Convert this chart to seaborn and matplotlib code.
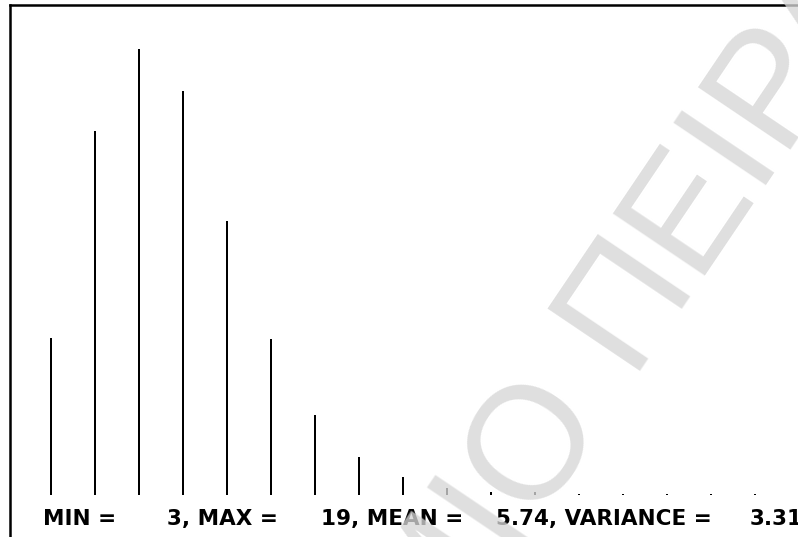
import matplotlib
matplotlib.use("Agg")
import matplotlib.pyplot as plt
import seaborn as sns
import pandas as pd

# Observed outcomes and their frequencies
values = [3, 4, 5, 6, 7, 8, 9, 10, 11, 12, 13, 14, 15, 16, 17, 18, 19]
counts = [157, 364, 446, 404, 274, 156, 80, 38, 18, 7, 3, 3, 1, 1, 1, 1, 1]

# Summary statistics printed under the spikes
stat_min = min(values)
stat_max = max(values)
stat_mean = 5.74
stat_var = 3.31

watermark_left = "ΠΑΝΕΠΙΣΤΗΜΙΟ"
watermark_right = "ΠΕΙΡΑΙΩΣ"

W, H = 798, 537
sns.set_style("white")
plt.rcParams["font.family"] = ["DejaVu Sans"]

fig = plt.figure(figsize=(W / 100, H / 100), dpi=100)
fig.patch.set_facecolor("white")

# Axes frame: left edge at x=10px, top edge at y=5px, runs past the right edge
ax = fig.add_axes([10 / W, 0, (W) / W, (H - 5) / H])
df = pd.DataFrame({"value": values, "count": counts})
sns.barplot(data=df, x="value", y="count", native_scale=True,
            width=2 / 44, color="black", saturation=1, edgecolor="none",
            linewidth=0, ax=ax)

px_per_unit = 44.0
x0_px = 51 - 10  # first spike offset from axes left edge
ax.set_xlim(values[0] - x0_px / px_per_unit,
            values[0] + (W - x0_px) / px_per_unit)
ax.set_ylim(-42, H - 5 - 42)
ax.set_xticks([])
ax.set_yticks([])
ax.set_xlabel("")
ax.set_ylabel("")
ax.set_facecolor("white")
for side in ["right", "bottom"]:
    ax.spines[side].set_visible(False)
for side in ["left", "top"]:
    ax.spines[side].set_visible(True)
    ax.spines[side].set_color("black")
    ax.spines[side].set_linewidth(1.8)

# Statistics line
parts = [
    ("MIN =", 43),
    (f"{stat_min}, MAX =", 167),
    (f"{stat_max}, MEAN =", 321),
    (f"{stat_mean:.2f}, VARIANCE =", 496),
    (f"{stat_var:.2f}", 750),
]
for txt, xp in parts:
    fig.text(xp / W, 1 - 525 / H, txt, ha="left", va="baseline",
             fontsize=15.5, fontweight="bold", color="black")

# Diagonal watermark
wm_kw = dict(fontsize=116, family="Liberation Sans", color=(0.84, 0.84, 0.84),
             alpha=0.78, rotation=56, rotation_mode="anchor",
             va="center_baseline", zorder=10)
fig.text(553 / W, 1 - 376 / H, watermark_left, ha="right", **wm_kw)
fig.text(579 / W, 1 - 338 / H, watermark_right, ha="left", **wm_kw)

fig.savefig("out.png", dpi=100, facecolor="white")
